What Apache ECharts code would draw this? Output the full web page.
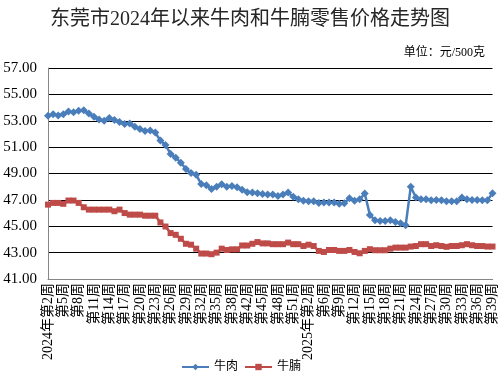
<!DOCTYPE html>
<html>
<head>
<meta charset="utf-8">
<script src="https://cdn.jsdelivr.net/npm/echarts@6/dist/echarts.min.js"></script>
<style>html,body{margin:0;padding:0;background:#fff;}#c{width:500px;height:385px;}</style>
</head>
<body>
<div id="c"></div>
<script>
const weeks2024 = [2,3,4,5,6,7,8,9,10,11,12,13,14,15,16,17,18,19,20,21,22,23,24,25,26,27,28,29,30,31,32,33,34,35,36,37,38,39,41,42,43,44,45,46,47,48,49,50,51,52];
const weeks2025 = [1,2,3,4,6,7,8,9,10,11,12,13,14,15,16,17,18,19,20,21,22,23,24,25,26,27,28,29,30,31,32,33,34,35,36,37,38,39];
const beef = [53.38,53.5,53.4,53.5,53.7,53.65,53.75,53.8,53.55,53.3,
  53.1,53.0,53.2,53.05,52.9,52.75,52.8,52.55,52.37,52.22,
  52.27,52.1,51.5,51.16,50.48,50.2,49.82,49.34,49.03,48.9,
  48.2,48.1,47.82,48.0,48.18,48.0,48.05,47.96,47.76,47.57,
  47.55,47.5,47.45,47.4,
  47.4,47.3,47.4,47.56,47.23,47.05,46.94,46.89,46.89,46.76,
  46.8,46.8,46.8,46.7,46.75,47.13,46.94,47.05,47.48,45.86,
  45.45,45.4,45.4,45.45,45.33,45.23,45.07,47.99,47.18,47.05,
  47.05,46.98,47.0,46.98,46.89,46.89,46.89,47.18,47.05,47.0,
  47.0,46.98,46.98,47.5];
const brisket = [46.64,46.77,46.77,46.7,46.95,46.95,46.77,46.44,46.26,46.26,
  46.26,46.26,46.26,46.14,46.26,46.0,45.88,45.88,45.88,45.8,
  45.8,45.8,45.29,44.98,44.48,44.35,44.05,43.67,43.6,43.3,
  42.93,42.93,42.88,43.0,43.3,43.2,43.25,43.25,43.54,43.54,
  43.67,43.8,43.7,43.7,
  43.64,43.64,43.64,43.76,43.64,43.64,43.5,43.6,43.5,43.13,
  43.05,43.2,43.2,43.13,43.13,43.2,43.05,42.95,43.13,43.26,
  43.18,43.18,43.18,43.3,43.38,43.38,43.38,43.46,43.5,43.64,
  43.64,43.5,43.56,43.5,43.44,43.5,43.5,43.56,43.64,43.56,
  43.5,43.5,43.46,43.46];
const seriesNames = ['牛肉','牛腩'];
const yTicks = {min:41, max:57, interval:2};

const categories = [];
weeks2024.forEach((w,i)=>categories.push((i===0?'2024年':'')+'第'+w+'周'));
weeks2025.forEach((w,i)=>categories.push((w===2?'2025年':'')+'第'+w+'周'));

const chart = echarts.init(document.getElementById('c'));
const serif = "'Liberation Serif','Noto Sans CJK SC'";
chart.setOption({
  animation:false,
  title:[
    {text:'东莞市2024年以来牛肉和牛腩零售价格走势图', left:'center', top:5,
     textStyle:{fontFamily:serif, fontSize:20, fontWeight:'normal', color:'#262626'}},
    {text:'单位：元/500克', right:10, top:42,
     textStyle:{fontFamily:serif, fontSize:12, fontWeight:'normal', color:'#000'}}
  ],
  legend:{left:176, top:356, itemWidth:27, itemHeight:8, itemGap:6,
    textStyle:{fontFamily:serif, fontSize:12, color:'#000'}, data:seriesNames},
  grid:{left:48, right:7.5, top:68, bottom:106, containLabel:false},
  xAxis:{type:'category', data:categories, boundaryGap:false,
    axisLine:{lineStyle:{color:'#868686', width:1}},
    axisTick:{show:false},
    axisLabel:{interval:2, rotate:90, margin:4, fontFamily:serif, fontSize:14, color:'#000'},
    splitLine:{show:false}},
  yAxis:{type:'value', min:yTicks.min, max:yTicks.max, interval:yTicks.interval,
    axisLine:{show:true, lineStyle:{color:'#868686', width:1}},
    axisTick:{show:false},
    axisLabel:{formatter:v=>v.toFixed(2), margin:11, fontFamily:serif, fontSize:15, color:'#000'},
    splitLine:{lineStyle:{color:'#000', width:1}}},
  series:[
    {name:seriesNames[0], type:'line', data:beef, symbol:'diamond', symbolSize:8, showAllSymbol:true,
     lineStyle:{color:'#4A7EBB', width:2.5}, itemStyle:{color:'#4A7EBB'}},
    {name:seriesNames[1], type:'line', data:brisket, symbol:'rect', symbolSize:6, showAllSymbol:true,
     lineStyle:{color:'#BE4B48', width:2.5}, itemStyle:{color:'#BE4B48'}}
  ]
});
</script>
</body>
</html>
